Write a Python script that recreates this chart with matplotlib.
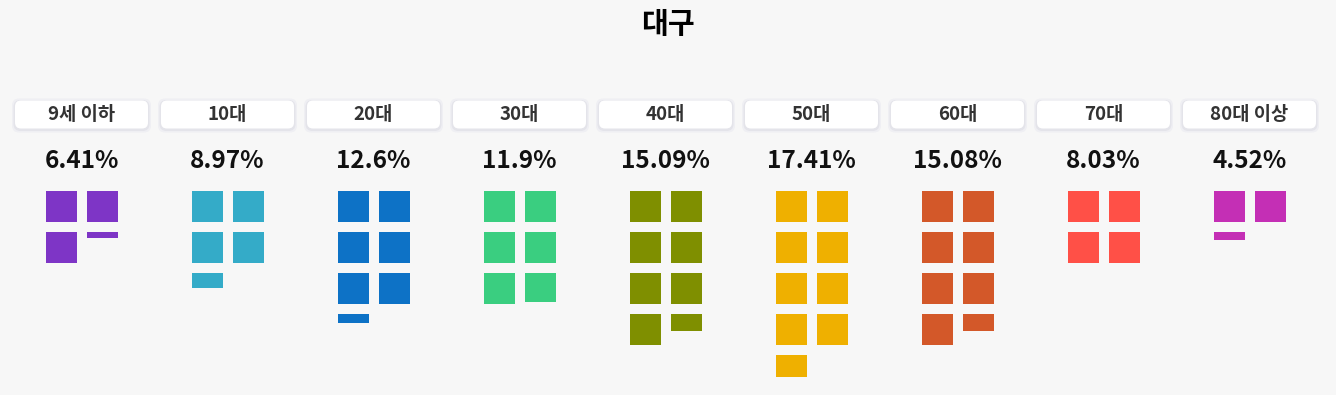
import matplotlib.pyplot as plt
from matplotlib.patches import Rectangle, FancyBboxPatch

plt.rcParams['font.family'] = ['Noto Sans CJK KR', 'DejaVu Sans']

title = "대구"
groups = ["9세 이하", "10대", "20대", "30대", "40대", "50대", "60대", "70대", "80대 이상"]
shares = [6.41, 8.97, 12.6, 11.9, 15.09, 17.41, 15.08, 8.03, 4.52]
share_labels = ["6.41%", "8.97%", "12.6%", "11.9%", "15.09%", "17.41%", "15.08%", "8.03%", "4.52%"]
colors = ["#7E35C6", "#34ABC8", "#0D72C6", "#3ACE80", "#7F8F00",
          "#EFB000", "#D35829", "#FF5047", "#C42FB5"]
unit = 2.0  # percent per square

W, H = 1336, 395
fig = plt.figure(figsize=(W / 100, H / 100), dpi=100)
fig.patch.set_facecolor("#F7F7F7")
ax = fig.add_axes([0, 0, 1, 1])
ax.set_xlim(0, W)
ax.set_ylim(H, 0)
ax.axis("off")

ax.text(W / 2, 24, title, ha="center", va="center", fontsize=21,
        fontweight="black", color="#000000")

first_cx, pitch = 81.5, 146
sq, gap = 31, 10
top = 191

for i, (g, v, lab, c) in enumerate(zip(groups, shares, share_labels, colors)):
    cx = first_cx + i * pitch
    # label box with soft shadow
    for grow, col in [(3, "#EFEFF3"), (1.5, "#E4E4EA")]:
        ax.add_patch(FancyBboxPatch((cx - 66.5 - grow, 100.5 - grow + 1), 133 + 2 * grow, 28 + 2 * grow,
                                    boxstyle="round,pad=0,rounding_size=7",
                                    fc=col, ec="none", zorder=1))
    box = FancyBboxPatch((cx - 66.5, 100.5), 133, 28,
                         boxstyle="round,pad=0,rounding_size=6",
                         fc="white", ec="none", zorder=2)
    ax.add_patch(box)
    ax.text(cx, 115, g, ha="center", va="center", fontsize=13.5,
            fontweight="black", color="#333333", zorder=3)
    ax.text(cx, 161, lab, ha="center", va="center", fontsize=17.5,
            fontweight="bold", color="#111111")

    n = v / unit
    full = int(n)
    frac = n - full
    left = cx - 35.5
    for k in range(full + 1):
        h = sq if k < full else frac * sq
        if h <= 0:
            continue
        r, col = divmod(k, 2)
        ax.add_patch(Rectangle((left + col * (sq + gap), top + r * (sq + gap)),
                               sq, h, fc=c, ec="none"))

fig.savefig("out.png", dpi=100, facecolor=fig.get_facecolor())
